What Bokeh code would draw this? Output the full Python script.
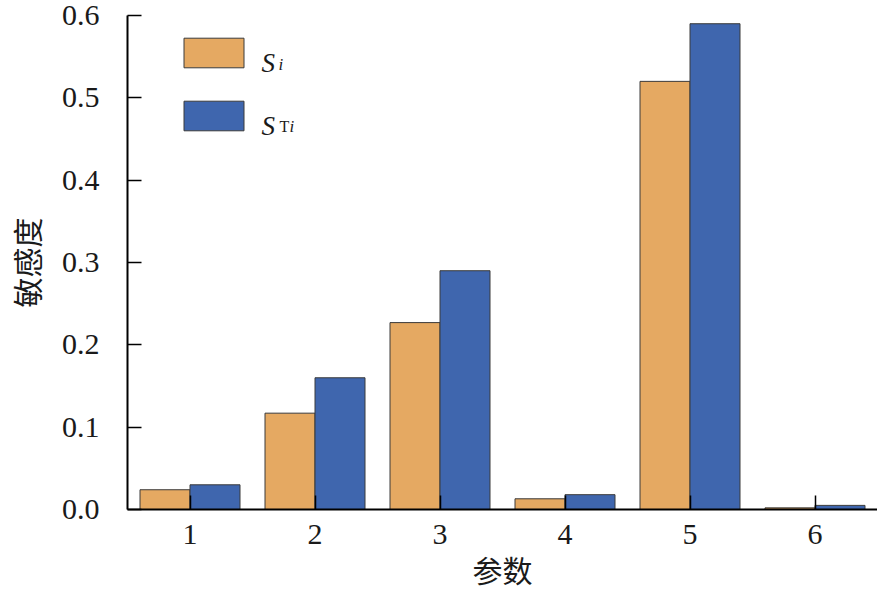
from bokeh.plotting import figure
from bokeh.models import (ColumnDataSource, FixedTicker, Legend, LegendItem, Label,
                          Range1d, NumeralTickFormatter)
from bokeh.transform import dodge
from bokeh.embed import file_html
from bokeh.resources import INLINE

# data
params = [1, 2, 3, 4, 5, 6]
si = [0.024, 0.117, 0.227, 0.013, 0.520, 0.002]
sti = [0.030, 0.160, 0.290, 0.018, 0.590, 0.005]
y_ticks = [0.0, 0.1, 0.2, 0.3, 0.4, 0.5, 0.6]
x_label = "参数"
y_label = "敏感度"

ORANGE = "#E5A962"
BLUE = "#3F66AE"
EDGE = "#3a3a3a"
TXT = "#1a1a1a"
SERIF = "Liberation Serif"
CJK = "Noto Sans CJK SC"

src = ColumnDataSource(dict(param=params, si=si, sti=sti))

p = figure(width=877, height=595, output_backend="svg", toolbar_location=None,
           x_range=Range1d(0.5, 6.5), y_range=Range1d(0, 0.6),
           min_border_left=127, min_border_right=0, min_border_top=15, min_border_bottom=86)
p.outline_line_color = None
p.grid.visible = False
p.background_fill_color = "white"

r1 = p.vbar(x=dodge("param", -0.2), top="si", width=0.4, source=src,
            fill_color=ORANGE, line_color=EDGE, line_width=1)
r2 = p.vbar(x=dodge("param", 0.2), top="sti", width=0.4, source=src,
            fill_color=BLUE, line_color=EDGE, line_width=1)

for ax in (p.xaxis[0], p.yaxis[0]):
    ax.axis_line_color = "black"
    ax.axis_line_width = 2
    ax.major_tick_in = 14
    ax.major_tick_out = 0
    ax.major_tick_line_width = 1.5
    ax.major_tick_line_color = "black"
    ax.minor_tick_line_color = None
    ax.major_label_text_font = SERIF
    ax.major_label_text_font_size = "30px"
    ax.major_label_text_color = TXT
    ax.axis_label_text_font = CJK
    ax.axis_label_text_font_size = "30px"
    ax.axis_label_text_font_style = "normal"
    ax.axis_label_text_color = TXT

p.xaxis.ticker = FixedTicker(ticks=params)
p.yaxis.ticker = FixedTicker(ticks=y_ticks)
p.yaxis.formatter = NumeralTickFormatter(format="0.0")
p.xaxis.axis_label = x_label
p.yaxis.axis_label = y_label
p.xaxis.major_label_standoff = 15
p.yaxis.major_label_standoff = 28
p.xaxis.axis_label_standoff = 0
p.yaxis.axis_label_standoff = 11

legend = Legend(items=[LegendItem(label=" ", renderers=[r1]),
                       LegendItem(label=" ", renderers=[r2])],
                location=(49, 375), orientation="vertical",
                glyph_width=75, glyph_height=37, label_height=37, spacing=26,
                padding=0, margin=0, label_standoff=0, label_text_font_size="1px",
                border_line_alpha=0, background_fill_alpha=0)
p.add_layout(legend, "center")

def lab(x, y, t, size, style):
    p.add_layout(Label(x=x, y=y, x_units="screen", y_units="screen", text=t,
                       text_font=SERIF, text_font_size=size, text_font_style=style,
                       text_baseline="alphabetic", text_color=TXT))

lab(134, 447, "S", "27px", "italic")
lab(151, 445.5, "i", "17px", "italic")
lab(134, 384, "S", "27px", "italic")
lab(152, 383.5, "T", "16px", "normal")
lab(162, 383.5, "i", "17px", "italic")

open("out.html", "w").write(file_html(p, INLINE))
